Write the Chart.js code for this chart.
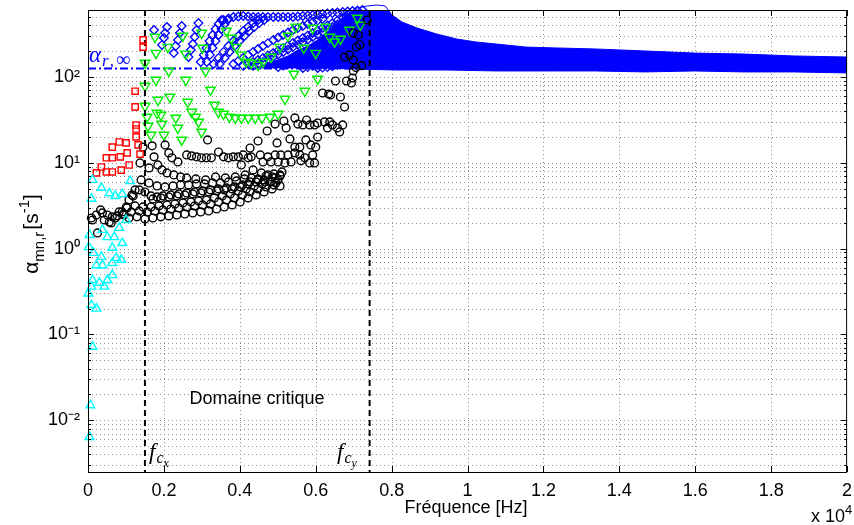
<!DOCTYPE html>
<html><head><meta charset="utf-8">
<script src="https://cdn.jsdelivr.net/npm/chart.js@4/dist/chart.umd.min.js"></script>
<style>html,body{margin:0;padding:0;background:#fff}</style>
</head><body>
<canvas id="c" width="854" height="525"></canvas>
<script>
// ---------------- data (frequency in Hz, damping alpha in s^-1) ----------------
const fcx = 1500, fcy = 7420, alphaInf = 125;

const cyanFreq  = [118,353,1111,92,562,719,902,39,379,510,693,823,902,1006,20,144,640,353,222,379,640,745,876,118,301,510,640,10,92,431,92,222,118,65,39];
const cyanAlpha = [6.3,5.1,6.1,3.8,4.4,4.1,4.3,1.44,1.65,1.36,1.36,1.74,1.16,2.15,1.04,0.89,1.02,0.80,0.64,0.64,0.68,0.78,0.74,0.43,0.40,0.43,0.49,0.30,0.36,0.36,0.22,0.20,0.072,0.015,0.0064];

const redFreq  = [1451,1451,1242,1242,1268,1268,1268,1320,1372,823,640,1006,1032,850,640,484,1085,876,640,484,353,222];
const redAlpha = [269,222,68,44.6,27.5,24.7,20.0,16.1,12.6,17.4,15.2,17.0,13.0,11.7,11.4,11.4,9.4,8.2,7.8,7.8,8.9,7.6];

const greenFreq  = [1764,1791,2104,2496,2575,2993,3019,1503,2130,3098,1791,2575,1503,3228,1843,2157,2627,1503,1817,2313,2732,1555,1921,2836,1581,1947,2366,2915,2993,1660,2000,2470,3333,3437,3568,3725,3882,4039,4222,4405,4588,4797,5006,5189,5712,6051,5424,3777,4039,4300,4483,4614,5058,5267,5476,5685,5999,5921,6261,6496,6653,7097,7175,3647,3908,4169,4823,6365,6888];
const greenAlpha = [291,189,222,299,185,324,217,145,117,117,91.8,91.8,78.2,70.3,53.7,58.2,50.9,45.7,37.9,33.2,38.9,34.1,35.9,34.1,26.8,28.2,25.4,29.8,22.8,21.0,21.0,18.4,47.0,38.9,36.9,34.1,33.2,33.2,33.2,33.2,33.2,34.1,36.9,55.2,68.4,94.4,108,283,180,145,137,149,222,299,380,217,189,370,380,255,276,484,401,342,222,149,170,291,351];

// black circles, read row by row
const blackLowFreq  = [90,220,330,380,120,250,560,610,510,640,720,900,1010,1080,1160,1240,430,950,770];
const blackLowAlpha = [2.27,2.46,2.82,2.60,2.15,1.52,2.04,1.99,2.46,2.34,2.27,2.67,3.05,3.68,4.21,4.82,2.15,2.46,2.40];
const blackBotFreq  = [1080,1290,1500,1710,1920,2130,2340,2550,2760,2970,3180,3390,3590,3800,4010,4220,4430,4640,4850,5060];
const blackBotAlpha = [2.27,2.34,2.21,2.27,2.34,2.40,2.46,2.53,2.60,2.67,2.74,2.89,3.05,3.22,3.49,3.89,4.21,4.56,4.95,5.36];
const blackMid2Freq  = [930,1140,1350,1560,1760,1970,2180,2390,2600,2810,3020,3230,3440,3650,3860,4070,4270,4480,4690,4900];
const blackMid2Alpha = [2.53,2.67,2.74,2.67,2.74,2.82,2.89,2.97,3.05,3.14,3.22,3.31,3.49,3.68,3.89,4.21,4.56,4.95,5.22,5.51];
const blackMidFreq  = [820,1030,1240,1450,1660,1870,2080,2290,2500,2710,2910,3120,3330,3540,3750,3960,4170,4380,4590,4800,5010];
const blackMidAlpha = [2.67,2.97,3.14,3.05,3.05,3.14,3.22,3.31,3.40,3.49,3.59,3.68,3.89,4.10,4.33,4.69,4.95,5.36,5.66,5.97,6.30];
const blackTop2Freq  = [1710,1920,2130,2340,2550,2760,2970,3180,3390,3590,3800,4010,4220,4430,4640,4850,5060];
const blackTop2Alpha = [3.78,3.89,3.99,4.10,4.21,4.33,4.44,4.56,4.69,4.82,4.95,5.22,5.66,5.97,6.30,6.82,7.01];
const blackTopFreq  = [1190,1350,1500,1660,1820,1970,2180,2390,2600,2810,3020,3230,3440,3650,3860,4070,4270,4480,4690,4900,5110];
const blackTopAlpha = [4.10,4.82,4.56,4.10,3.99,4.10,4.21,4.33,4.44,4.56,4.69,4.82,4.95,5.08,5.22,5.51,5.97,6.47,7.01,7.39,7.80];
const blackUpFreq  = [1400,1610,1820,2030,2240,2440,2650,2860,3070,3280,3490,3700,3910,4120];
const blackUpAlpha = [6.30,5.81,5.36,5.22,5.36,5.51,5.51,5.66,5.66,5.81,5.81,5.97,6.13,6.47];
const blackArcBFreq  = [1370,1610,1740,1840,1950,2080,2260,2440,2600,2840,3100,3360,3620,3880,4140,4300,4350,4540,4740,4930,5080,5270,5450,5580,5710,5920,5970,5840,5610,5350,5190,5010,4820,4610,4300,4570,4740,4930,5060,4820,4660,4480,4950];
const blackArcBAlpha = [9.93,8.69,11.7,9.41,8.23,7.60,7.20,6.82,6.64,6.47,6.30,6.82,6.64,6.82,7.20,6.64,8.23,12.3,11.7,12.3,12.3,12.3,13.0,12.3,11.4,12.3,9.93,9.93,10.5,10.2,9.93,10.2,10.2,10.2,11.7,7.60,7.20,6.64,7.20,5.97,5.97,6.30,5.81];
const blackArcCFreq  = [1690,2030,2130,2210,2370,2600,2730,2860,2990,3120,3250,3150,3440,3570,3700,3830,3960,4090,4220,4040,4270,4480,4720,4930,5160,5220,5450,5530,5660,5760,5840,5970,6050,6230,6370,6440,6570,6710,6630,6310,6050,5870,6000,5450,5580,5740,5320,4980,1450];
const blackArcCAlpha = [15.7,16.1,13.0,11.4,10.2,12.3,12.0,11.7,11.4,11.4,11.4,18.4,13.3,11.7,11.4,11.7,11.7,12.3,11.4,9.41,14.8,17.9,23.4,28.2,30.6,25.4,33.2,28.2,27.5,31.4,27.5,27.5,29.0,29.8,29.8,27.5,25.4,27.5,22.8,25.4,19.9,16.1,15.2,15.2,15.2,18.4,18.9,17.0,15.2];
const blackHighFreq  = [6180,6340,6390,6520,6650,6760,6810,6940,6970,6990,6990,6890,6760,7070,6990,7120,7360,7160,7210,7060];
const blackHighAlpha = [64.8,63.1,61.4,89.4,58.2,44.5,89.4,84.8,96.9,116.9,157,179.6,170.2,222.5,324,307,459,236,135,128];

// blue diamonds (branches below f_cy), one line per branch
const blueFreq = [1740,
  1950,2000,2030,2080,
  2260,2310,2370,2420,2470,
  2650,2710,2760,2810,2860,2910,
  2970,3050,3120,3200,3280,3360,3440,3520,
  3130,3210,3280,3360,3440,3520,3600,3680,
  3310,3440,3570,3700,3830,3960,4090,4220,4350,4480,
  3470,3600,3730,3860,3990,4120,4250,4380,4510,4640,
  3830,3960,4090,4220,4350,4480,4610,4740,4880,5010,5140,5270,5400,5530,5660,5790,5920,6050,6180,
  4350,4480,4610,4740,4880,5010,5140,5270,5400,5530,5660,5790,5920,6050,6180,6310,6440,6570,6710,6840,6970,
  5010,5140,5270,5400,5530,5660,5790,5920,6050,6180,6310,6440,6570,6700,6840,6970,7100,7200,7310,
  5660,5790,5920,6050,6180,6310,6440,6570,6710,6840,6970,7100,7230,7320,7410,
  6050,6180,6310,6440,6570,6700,6840,6970,7100,7200,7310,7400,7490,
  4090,4220,4350,4480,4610,4740,4880,5010,5140,5270,5400,5530,5660,5790,5920,6050,6180,6310,6440,6570,6710,6800,6890,
  3570,3700,3830,3960,4090,4220,4350,4480,4610,4740,4880,5010,5140,5270,5400,5530,5660,5790,5920,6050,6180,6310,6440,6570,6710,6840,6970,7100,7230];
const blueAlpha = [351,
  235,283,324,380,
  189,228,268,324,391,
  170,205,241,291,351,423,
  149,180,217,261,307,361,412,459,
  149,180,217,261,307,361,412,459,
  141,166,195,228,261,299,342,380,423,459,
  141,166,195,228,261,299,342,380,423,459,
  141,153,166,180,195,211,228,247,268,287,307,328,351,371,391,412,435,452,471,
  134,141,149,159,170,182,195,208,222,237,254,271,291,311,333,356,380,406,435,459,484,
  130,135,141,149,157,168,180,192,205,220,235,255,276,300,324,351,380,418,459,
  127,130,134,139,145,153,161,172,184,200,217,240,268,305,351,
  127,128,130,133,137,143,149,160,170,187,205,234,268,
  134,141,149,157,166,177,189,202,217,232,248,265,283,303,324,346,370,396,423,451,484,511,539,
  459,478,497,504,511,504,497,497,497,497,497,497,497,497,497,504,511,518,525,532,539,546,553,560,568,576,584,592,600];

// dense blue band: upper and lower edges
const bandUpFreq  = [4480,4740,5010,5270,5530,5790,6050,6310,6570,6840,7100,7360,7620,7830,8010,8270,8670,9190,9710,10230,10760,11540,12320,13370,14680,15980,17290,18600,20000];
const bandUpAlpha = [130,143,158,175,205,228,268,333,435,539,633,668,686,668,525,435,370,315,276,254,241,222,217,211,200,189,184,175,170];
const bandLoFreq  = [4480,5270,6050,7100,8140,9450,10760,12320,13370,14680,15980,17290,18600,20000];
const bandLoAlpha = [127,127,127,123,120,120,117,117,117,114,117,114,114,111];

// axes
const xTickLabels = ['0','0.2','0.4','0.6','0.8','1','1.2','1.4','1.6','1.8','2'];
const yMajorValues = [0.01,0.1,1,10,100];
const yMajorLabels = ['10\u207B\u00B2','10\u207B\u00B9','10\u2070','10\u00B9','10\u00B2'];
const yGridValues = [0.003,0.004,0.005,0.006,0.007,0.008,0.009,0.01,0.02,0.03,0.04,0.05,0.06,0.07,0.08,0.09,0.1,0.2,0.3,0.4,0.5,0.6,0.7,0.8,0.9,1,2,3,4,5,6,7,8,9,10,20,30,40,50,60,70,80,90,100,200,300,400,500];

// ---------------- build ----------------
const pts = (xs, ys) => xs.map((x, i) => ({x, y: ys[i]}));
const blackPts = [].concat(
  pts(blackLowFreq, blackLowAlpha), pts(blackBotFreq, blackBotAlpha), pts(blackMid2Freq, blackMid2Alpha),
  pts(blackMidFreq, blackMidAlpha), pts(blackTop2Freq, blackTop2Alpha), pts(blackTopFreq, blackTopAlpha),
  pts(blackUpFreq, blackUpAlpha), pts(blackArcBFreq, blackArcBAlpha), pts(blackArcCFreq, blackArcCAlpha),
  pts(blackHighFreq, blackHighAlpha));

const SANS = 'Liberation Sans';
const SER = 'Liberation Serif';
Chart.defaults.font.family = SANS;
Chart.defaults.color = '#000';

function rich(ctx, x, y, parts) {
  let cx = x;
  for (const p of parts) { ctx.font = p.f; ctx.fillText(p.t, cx, y + (p.dy || 0)); cx += ctx.measureText(p.t).width + (p.gap || 0); }
}
function richWidth(ctx, parts) {
  let w = 0; for (const p of parts) { ctx.font = p.f; w += ctx.measureText(p.t).width + (p.gap || 0); } return w;
}

const decor = {
  id: 'decor',
  beforeDatasetsDraw(chart) {
    const {ctx, chartArea: a, scales: {x, y}} = chart;
    ctx.save();
    ctx.strokeStyle = '#8f8f8f'; ctx.lineWidth = 1; ctx.setLineDash([1, 3]);
    for (let v = 2000; v < 20000; v += 2000) {
      const px = Math.round(x.getPixelForValue(v)) + 0.5;
      ctx.beginPath(); ctx.moveTo(px, a.top); ctx.lineTo(px, a.bottom); ctx.stroke();
    }
    for (const v of yGridValues) {
      const py = Math.round(y.getPixelForValue(v)) + 0.5;
      ctx.beginPath(); ctx.moveTo(a.left, py); ctx.lineTo(a.right, py); ctx.stroke();
    }
    ctx.strokeStyle = '#0000ff'; ctx.lineWidth = 2; ctx.setLineDash([8, 3, 2, 3]);
    const py = y.getPixelForValue(alphaInf);
    ctx.beginPath(); ctx.moveTo(a.left, py); ctx.lineTo(a.right, py); ctx.stroke();
    ctx.restore();
  },
  beforeDatasetDraw(chart, args) {
    if (args.index !== 2) return;
    const {ctx, chartArea: a, scales: {x}} = chart;
    ctx.save();
    ctx.strokeStyle = '#000'; ctx.lineWidth = 2; ctx.setLineDash([6, 4]);
    for (const f of [fcx, fcy]) {
      const px = x.getPixelForValue(f);
      ctx.beginPath(); ctx.moveTo(px, a.top); ctx.lineTo(px, a.bottom); ctx.stroke();
    }
    ctx.restore();
  },
  afterDraw(chart) {
    const {ctx, chartArea: a, scales: {x, y}} = chart;
    ctx.save();
    ctx.strokeStyle = '#000'; ctx.lineWidth = 1; ctx.setLineDash([]);
    ctx.strokeRect(a.left + 0.5, a.top + 0.5, a.right - a.left - 1, a.bottom - a.top);
    ctx.beginPath();
    for (let v = 0; v <= 20000; v += 2000) {
      const px = Math.round(x.getPixelForValue(v)) + 0.5;
      ctx.moveTo(px, a.bottom); ctx.lineTo(px, a.bottom - 6);
      ctx.moveTo(px, a.top); ctx.lineTo(px, a.top + 6);
    }
    for (const v of yGridValues) {
      const py = Math.round(y.getPixelForValue(v)) + 0.5;
      const L = yMajorValues.some(m => Math.abs(m - v) / m < 1e-6) ? 6 : 3;
      ctx.moveTo(a.left, py); ctx.lineTo(a.left + L, py);
      ctx.moveTo(a.right, py); ctx.lineTo(a.right - L, py);
    }
    ctx.stroke();

    ctx.fillStyle = '#000'; ctx.textBaseline = 'alphabetic';
    ctx.font = '18px ' + SANS; ctx.textAlign = 'center';
    ctx.fillText('Fréquence [Hz]', 466, 513);
    ctx.textAlign = 'left';
    rich(ctx, 811, 522, [{t: 'x 10', f: '18px ' + SANS}, {t: '4', f: '13px ' + SANS, dy: -8}]);
    const yl = [{t: 'α', f: '21px ' + SANS}, {t: 'mn,r', f: '15px ' + SANS, dy: 6, gap: 2},
                {t: '[s', f: '21px ' + SANS}, {t: '-1', f: '15px ' + SANS, dy: -9}, {t: ']', f: '21px ' + SANS}];
    const w = richWidth(ctx, yl);
    ctx.save(); ctx.translate(38, 234); ctx.rotate(-Math.PI / 2);
    rich(ctx, -w / 2, 0, yl); ctx.restore();
    ctx.font = '18px ' + SANS; ctx.textAlign = 'center';
    ctx.fillText('Domaine critique', 257, 404);
    ctx.textAlign = 'left';
    ctx.fillStyle = '#0000ff';
    rich(ctx, 89, 62, [{t: 'α', f: 'italic 23px ' + SER, gap: 1}, {t: 'r', f: 'italic 17px ' + SER, dy: 4, gap: 1},
                       {t: ',', f: 'italic 17px ' + SER, dy: 4, gap: 2}, {t: '∞', f: '20px ' + SER, dy: 4}]);
    ctx.fillStyle = '#000';
    rich(ctx, 149, 459, [{t: 'f', f: 'italic 23px ' + SER, gap: 1}, {t: 'c', f: 'italic 16px ' + SER, dy: 4}, {t: 'x', f: 'italic 12px ' + SER, dy: 8}]);
    rich(ctx, 337, 459, [{t: 'f', f: 'italic 23px ' + SER, gap: 1}, {t: 'c', f: 'italic 16px ' + SER, dy: 4}, {t: 'y', f: 'italic 12px ' + SER, dy: 8}]);
    ctx.restore();
  }
};

const hollow = 'rgba(0,0,0,0)';
new Chart(document.getElementById('c'), {
  type: 'scatter',
  data: {
    datasets: [
      {label: 'cyan', data: pts(cyanFreq, cyanAlpha), pointStyle: 'triangle', pointRadius: 5, pointBorderWidth: 1.4,
       borderColor: '#00ffff', backgroundColor: hollow, clip: 6},
      {label: 'red', data: pts(redFreq, redAlpha), pointStyle: 'rect', pointRadius: 4.4, pointBorderWidth: 1.4,
       borderColor: '#ff0000', backgroundColor: hollow, clip: 6},
      {label: 'black', data: blackPts, pointStyle: 'circle', pointRadius: 3.9, pointBorderWidth: 1.4,
       borderColor: '#000000', backgroundColor: hollow, clip: 6},
      {label: 'green', data: pts(greenFreq, greenAlpha), pointStyle: 'triangle', rotation: 180, pointRadius: 5.5, pointBorderWidth: 1.4,
       borderColor: '#00ee00', backgroundColor: hollow, clip: 6},
      {label: 'blue', data: pts(blueFreq, blueAlpha), pointStyle: 'rectRot', pointRadius: 4.3, pointBorderWidth: 1.3,
       borderColor: '#0000ff', backgroundColor: hollow, clip: 6},
      {label: 'bandUp', data: pts(bandUpFreq, bandUpAlpha), showLine: true, pointRadius: 0, borderWidth: 1,
       borderColor: '#0000ff', backgroundColor: '#0000ff', fill: '+1', tension: 0, clip: 6},
      {label: 'bandLo', data: pts(bandLoFreq, bandLoAlpha), showLine: true, pointRadius: 0, borderWidth: 1,
       borderColor: '#0000ff', backgroundColor: '#0000ff', fill: false, tension: 0, clip: 6}
    ]
  },
  options: {
    responsive: false, animation: false, devicePixelRatio: 1,
    layout: {padding: {top: 10, right: 1, left: 0, bottom: 0}},
    plugins: {legend: {display: false}, tooltip: {enabled: false}},
    scales: {
      x: {
        type: 'linear', min: 0, max: 20000,
        grid: {display: false, drawTicks: false}, border: {display: false},
        ticks: {stepSize: 2000, autoSkip: false, maxRotation: 0, padding: 8, font: {size: 18},
                callback: (v, i) => xTickLabels[i]},
        afterFit: (s) => { s.height = 53; s.paddingLeft = 0; s.paddingRight = 0; }
      },
      y: {
        type: 'logarithmic', min: 0.0025, max: 600,
        grid: {display: false, drawTicks: false}, border: {display: false},
        afterBuildTicks: (s) => { s.ticks = yGridValues.map(v => ({value: v})); },
        ticks: {autoSkip: false, padding: 8, font: {size: 18},
                callback: (v) => { const i = yMajorValues.findIndex(m => Math.abs(m - v) / m < 1e-6); return i >= 0 ? yMajorLabels[i] : ''; }},
        afterFit: (s) => { s.width = 88; s.paddingTop = 0; s.paddingBottom = 0; }
      }
    }
  },
  plugins: [decor]
});
</script>
</body></html>
